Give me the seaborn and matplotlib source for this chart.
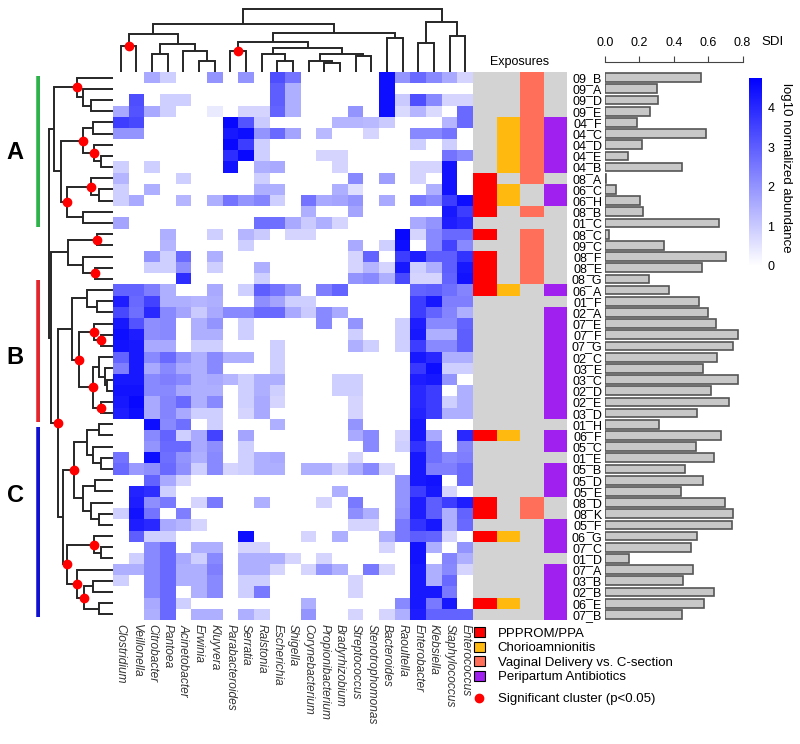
import numpy as np
import pandas as pd
import seaborn as sns
import matplotlib.pyplot as plt
from matplotlib.colors import LinearSegmentedColormap, ListedColormap
from matplotlib.patches import Patch
from matplotlib.lines import Line2D

# ---- data ----
samples = ["09_B", "09_A", "09_D", "09_E", "04_F", "04_C", "04_D", "04_E", "04_B", "08_A",
           "06_C", "06_H", "08_B", "01_C", "08_C", "09_C", "08_F", "08_E", "08_G", "06_A",
           "01_F", "02_A", "07_E", "07_F", "07_G", "02_C", "03_E", "03_C", "02_D", "02_E",
           "03_D", "01_H", "06_F", "05_C", "01_E", "05_B", "05_D", "05_E", "08_D", "08_K",
           "05_F", "06_G", "07_C", "01_D", "07_A", "03_B", "02_B", "06_E", "07_B"]

genera = ["Clostridium", "Veillonella", "Citrobacter", "Pantoea", "Acinetobacter", "Erwinia",
          "Kluyvera", "Parabacteroides", "Serratia", "Ralstonia", "Escherichia", "Shigella",
          "Corynebacterium", "Propionibacterium", "Bradyrhizobium", "Streptococcus",
          "Stenotrophomonas", "Bacteroides", "Raoultella", "Enterobacter", "Klebsiella",
          "Staphylococcus", "Enterococcus"]

sdi = [0.556, 0.300, 0.306, 0.262, 0.186, 0.587, 0.213, 0.132, 0.450, 0.004,
       0.062, 0.205, 0.223, 0.661, 0.025, 0.343, 0.703, 0.562, 0.256, 0.374,
       0.545, 0.597, 0.643, 0.775, 0.744, 0.649, 0.568, 0.775, 0.614, 0.721,
       0.533, 0.314, 0.674, 0.529, 0.636, 0.467, 0.568, 0.440, 0.696, 0.744,
       0.736, 0.535, 0.500, 0.138, 0.512, 0.453, 0.632, 0.574, 0.450]

# log10 normalized abundance, one row per sample (columns follow genera)
abundance = [
    [0, 0, 1.6, .9, 0, 0, 2.0, 0, 2.0, 0, 3.3, 2.6, 0, 0, 0, 0, 0, 4.5, 2.0, 2.8, 2.2, 1.6, .8],
    [0, 0, 0, 0, 0, 0, 0, 0, 0, 0, 3.0, 1.5, 0, 0, 0, 0, 0, 4.5, 0, 0, 0, 0, 0],
    [0, 3.3, 0, .9, .9, 0, 0, 0, 0, 0, 3.0, 1.5, 0, 0, 0, 0, 0, 4.5, 1.0, 3.3, 2.2, .8, .8],
    [1.6, 3.2, 1.6, .9, 0, 0, .4, 0, .8, .8, 2.9, 1.5, 0, 0, 0, 2.0, 0, 4.5, .7, 1.4, .7, 0, 2.8],
    [3.6, 3.4, 0, 0, 0, 0, 0, 4.6, 3.2, 1.0, 0, 0, 0, 0, 1.4, 1.4, 1.3, 1.0, 0, 0, 0, 1.4, 2.8],
    [2.0, 2.0, 0, 0, 0, 0, 0, 4.3, 4.5, 2.0, 2.8, 1.7, 0, 1.3, 0, 0, .8, 0, 0, 2.2, 2.2, 2.6, 0],
    [0, 0, 0, 0, 0, 0, 0, 4.6, 3.6, .9, 0, 0, 0, 0, 0, 0, 0, 0, 0, .9, 0, .9, 0],
    [0, 0, 0, 0, 0, 0, 0, 3.9, 4.6, .9, 0, 0, 0, .8, .8, 0, 0, 0, 0, 0, 0, 2.6, 2.2],
    [.9, 0, .9, 0, 0, 0, 0, 4.4, 0, 1.5, 1.6, 0, 0, 0, .8, 0, 0, 0, 0, .8, .8, 4.4, 0],
    [1.4, 0, 0, 0, .9, 0, 0, 0, 0, .9, 0, 0, 0, 0, 0, 2.2, 0, 1.8, 0, .8, 0, 4.4, 0],
    [.9, 0, 1.5, 0, 0, 0, 0, 0, 0, 1.5, 1.5, 0, 0, 0, 1.5, .6, 0, 0, 0, 0, 1.5, 4.4, 0],
    [.9, 1.6, 0, 0, 1.4, 0, 1.5, 2.6, 2.0, 2.3, .9, 0, 2.6, 1.6, 1.7, 2.0, 0, 1.6, 0, 2.5, 2.2, 3.6, 4.5],
    [0, 0, 0, 0, 0, 0, 0, 0, 0, 0, 0, 0, 1.5, 0, 0, 1.7, 0, 0, 0, 0, 0, 4.3, 3.6],
    [1.7, 0, 0, 0, 0, 0, 0, 0, 0, 2.7, 2.7, 1.6, 1.0, 1.5, .8, 0, 0, 0, 0, 1.6, 2.0, 4.2, 4.0],
    [0, 0, 0, 1.5, 0, 0, .9, 0, 1.4, 1.0, 0, .8, .8, 0, 0, 0, 0, 0, 4.6, .8, 2.2, 2.8, 2.8],
    [0, 0, 0, 1.4, 0, 0, 0, 0, .9, 0, 0, 0, 0, 0, 0, 1.6, 0, .9, 4.5, 0, 2.2, 3.5, 2.2],
    [0, 0, 2.0, .9, 2.8, 0, 1.5, 0, 0, 0, 0, 0, 0, 0, 0, .8, 2.9, 0, 3.6, 4.2, 3.0, 3.0, 3.8],
    [0, 0, .9, .9, 2.1, 0, .9, 0, 0, 1.5, 0, 0, 0, 0, 0, .8, 1.4, .8, 4.3, .9, 1.5, 3.0, 4.3],
    [0, 0, 0, 0, 3.9, 0, 0, 0, 0, .9, 0, 0, 0, 0, 0, 2.0, 2.2, 1.5, 3.4, .8, .8, 2.9, 4.4],
    [2.9, 2.9, 2.4, 1.5, 0, 0, 1.6, 0, .9, 3.0, 2.6, 2.0, 0, 2.4, 2.9, 0, 0, 0, 0, 2.9, 3.0, 2.7, 2.3],
    [4.2, 2.8, 3.5, 1.5, 1.5, 1.4, 1.5, 0, 0, 2.1, 1.7, .9, .9, 0, 0, 0, 0, 0, 0, 3.6, 4.3, 2.4, 2.4],
    [3.4, 2.7, 4.0, 2.2, 1.7, 1.0, 1.6, 2.2, 2.2, 2.8, 2.8, 1.6, 1.0, 2.2, 1.6, 0, 0, 0, 0, 3.6, 2.9, 2.3, 1.5],
    [4.3, 3.2, 2.1, 2.2, 0, 1.5, 2.0, 0, .9, 0, 0, 0, 0, 2.2, 0, 2.0, 0, 0, .9, 4.2, 2.2, 2.2, 2.9],
    [4.5, 4.2, 2.1, 2.2, 0, 1.5, 1.5, 0, .9, 0, 0, 0, 0, 0, 0, .9, 0, 0, .9, 4.3, 1.5, 1.5, 3.0],
    [4.4, 4.3, 1.6, 1.6, 0, .9, .9, 0, 0, 0, .9, 0, 0, 0, 0, 1.5, .9, 0, .9, 3.6, 2.2, 2.2, 3.0],
    [2.9, 4.3, 2.2, 2.8, 2.0, 1.5, 2.2, 1.5, 1.5, 0, .9, 0, 0, 0, 0, 0, 0, 0, 0, 4.3, 4.0, 1.5, 1.5],
    [2.4, 4.3, 1.6, 2.2, 1.6, 1.5, 2.2, 0, 0, 0, .9, 0, 0, 0, 0, 0, 0, 0, 0, 3.7, 4.5, .9, .9],
    [4.3, 4.3, 2.2, 2.4, 2.2, 1.5, 1.6, 1.4, .9, 1.5, 1.5, 0, 0, 0, .9, .9, 0, 0, 0, 4.2, 4.3, 2.0, 0],
    [4.4, 4.4, 2.2, 2.2, 1.6, 1.5, 1.5, 0, .9, 1.5, .9, 0, 0, 0, .9, .9, 0, 0, 0, 4.0, 3.6, 0, 1.5],
    [4.3, 4.6, 1.6, 2.3, 2.8, 1.5, 2.2, 0, .9, 1.6, .8, 0, 0, 0, 0, .8, 0, 0, 0, 4.0, 3.6, .9, 1.5],
    [4.2, 4.5, 1.6, 2.3, 1.6, .9, .9, 0, .8, 1.6, 0, 0, 0, 0, 0, .8, 0, 0, 0, 4.1, 3.6, 1.5, 1.5],
    [0, 0, 4.5, 2.2, 2.7, 0, .9, 0, 0, 0, 1.5, 0, 0, 0, 0, 2.0, 0, 0, 0, 4.3, 0, 0, 0],
    [0, 0, 2.2, 2.9, .9, 1.6, 3.5, 0, 1.7, 0, 0, 0, 0, 0, 0, 1.6, 2.2, 0, .8, 4.3, 1.6, 0, 4.0],
    [0, 0, 2.0, 2.8, 2.8, 1.6, 2.1, 0, .9, 0, 0, 0, 0, 0, 0, 0, 2.2, 0, .9, 3.8, 2.7, 0, 2.3],
    [2.6, 0, 4.5, 2.7, 2.0, 1.5, 2.2, 0, .9, 1.5, 1.6, 0, 0, 0, 0, .8, 0, 0, 0, 4.3, 2.7, 2.2, 2.4],
    [2.8, 1.9, 2.1, 2.8, 2.1, .9, 2.2, .8, .9, 1.5, 1.5, 0, 1.5, 1.5, .8, 1.5, 2.2, .8, 0, 4.3, 2.4, 2.4, 2.8],
    [0, 0, 2.9, 1.6, .8, 0, 0, 0, 0, 0, 0, 0, 0, 0, 0, 0, 0, 0, 2.0, 4.3, 4.4, 0, 2.8],
    [0, 4.1, 3.9, .9, 0, 0, 0, 0, 0, 0, 0, 0, 0, 0, 1.5, 0, 0, 0, 2.0, 3.6, 4.3, .8, 0],
    [0, 4.2, 2.1, 2.5, 0, .8, 2.5, 0, 0, 1.5, 0, 0, 0, .8, 0, 2.5, 0, 0, 2.0, 4.2, 3.0, 3.6, 4.2],
    [.9, 4.4, 2.6, 0, 2.4, 0, 0, 0, 0, 0, 0, 0, 0, 0, 0, 2.1, 1.5, 0, 2.1, 4.2, 3.0, 1.5, 2.9],
    [0, 4.2, 4.0, 1.6, 1.4, .8, 0, 0, 0, 0, 0, 0, 0, 0, 0, .8, .8, 0, 2.5, 3.8, 4.3, 1.5, 2.8],
    [0, 3.0, .9, .9, 0, 0, 0, 0, 4.5, 0, 0, 0, .8, 0, 1.5, 0, 0, 1.5, 2.5, 3.0, 2.9, .8, 0],
    [0, 0, 2.2, 2.8, 0, 1.5, 1.5, 0, .8, .8, 0, 0, 0, 0, 0, 0, 0, .8, 0, 4.4, 1.5, 0, 2.0],
    [0, .9, 2.2, 2.8, 1.6, .9, 2.2, 0, 1.5, 1.5, 1.5, .8, 0, .8, 0, 0, 0, 0, 0, 4.4, 0, 2.3, 1.5],
    [1.5, 1.5, 2.2, 2.8, 1.5, 1.5, 2.4, 0, 1.5, 1.5, .8, 0, .8, 2.0, 1.5, 0, 2.5, .8, 0, 4.3, 1.5, 2.2, .8],
    [.9, 0, 2.2, 2.8, 1.5, 1.5, 2.2, 0, .9, .9, 0, 0, 0, 0, 0, .8, 0, 0, 0, 4.3, 1.5, 2.8, 0],
    [0, 0, 2.2, 2.8, 0, 1.5, 2.2, 0, .9, 2.5, 0, 0, 0, 0, 0, .8, 0, 0, 0, 4.3, 4.3, 2.5, 0],
    [0, 0, 1.6, 2.8, .9, 0, 0, 0, 0, 0, 0, 0, 1.5, 0, 0, 0, 0, 0, 2.2, 4.3, 2.5, 4.3, 0],
    [0, 0, 1.5, 2.8, 0, 1.5, 1.5, 0, 1.5, .9, 0, 0, 2.0, 0, 0, .8, 0, .8, 1.5, 4.2, 2.9, 2.9, 2.9],
]

# exposures by patient (first two characters of the sample id)
exposures = ["PPPROM/PPA", "Chorioamnionitis", "Vaginal Delivery vs. C-section", "Peripartum Antibiotics"]
exposure_colors = ["#FF0000", "#FFB90F", "#FF6F59", "#A020F0"]
pprom_patients = ["06", "08"]
chorio_patients = ["04", "06"]
vaginal_patients = ["04", "08", "09"]
antibiotic_patients = ["02", "03", "04", "05", "06", "07"]

# dendrograms: (height, left, right, significant); ints are leaf positions
S, N = True, False
g06 = (38, (26, 0, 1, S), (28, (18, 2, 3, N), (21, 4, (11, 5, 6, N), N), N), N)
g716 = (30, (21, 7, 8, S), (24, (18, 9, (11, 10, 11, N), N),
                            (18, (11, 12, (9, 13, 14, N), N), (16, 15, 16, N), N), N), N)
g1922 = (50, (29, 19, 20, N), (36, 21, 22, N), N)
col_tree = (63, (48, g06, (39, g716, (34, 17, 18, N), N), N), g1922, N)

rA1 = (36, 0, (30, 1, (22, 2, 3, N), N), S)
rA2 = (30, (20, 4, 5, N), (19, 6, (12, 7, 8, N), S), S)
rA3 = (46, (22, 9, (14, 10, 11, N), S), (30, 12, 13, N), S)
rA = (59, rA1, (52, rA2, rA3, N), N)
rD = (45, (16, 14, 15, S), (30, 16, (18, 17, 18, S), N), N)
rB = (41, (26, 19, (16, 20, 21, N), N),
      (34, (18.6, 22, (12, 23, 24, S), S),
       (20, (14, 25, (8, 26, (6, 27, 28, N), N), N), (12, 29, 30, S), S), S), N)
rC1 = (39, (26, (14, 31, 32, N), (20, 33, (12, 34, 35, N), N), N),
       (30, (18, 36, 37, N), (22, 38, (14, 39, 40, N), N), N), S)
rC2 = (46, (18.6, 41, (12, 42, 43, N), S),
       (36, 44, (29.5, (20, 45, 46, N), (14, 47, 48, N), S), S), S)
row_tree = (64, rA, (62, rD, (55, rB, (50, rC1, rC2, N), S), N), N)

# cluster bars: label, first row, last row, label row, colour
clusters = [("A", 0.4, 13.9, 7.2, "#2DB34A"), ("B", 18.6, 31.3, 25.5, "#E3262D"),
            ("C", 31.7, 48.7, 37.9, "#1010D0")]

# ---- figure ----
plt.rcParams["font.family"] = ["Liberation Sans", "DejaVu Sans"]
fig = plt.figure(figsize=(8, 7.44), dpi=100)
W, H = 800.0, 744.0


def px_axes(x0, y0, x1, y1):
    return fig.add_axes([x0 / W, 1 - y1 / H, (x1 - x0) / W, (y1 - y0) / H])


top, bottom = 72, 620
ax_heat = px_axes(113, top, 473, bottom)
ax_exp = px_axes(473, top, 567, bottom)
ax_bar = px_axes(605, top, 742.5, bottom)
ax_cb = px_axes(749, 78, 762, 266)
ax_coltree = px_axes(113, 0, 473, top)
ax_rowtree = px_axes(40, top, 113, bottom)
ax_clu = px_axes(0, top, 40, bottom)

# heatmap
df = pd.DataFrame(abundance, index=samples, columns=genera)
cmap = LinearSegmentedColormap.from_list("wb", ["#FFFFFF", "#0000FF"])
sns.heatmap(df, ax=ax_heat, cmap=cmap, vmin=0, vmax=4.75, cbar_ax=ax_cb,
            xticklabels=True, yticklabels=False)
ax_heat.set_xlabel("")
ax_heat.set_ylabel("")
ax_heat.tick_params(axis="x", length=0, pad=3)
for t in ax_heat.get_xticklabels():
    t.set_rotation(270)
    t.set_fontstyle("italic")
    t.set_fontsize(8.6)
    t.set_color("#333333")
    t.set_va("top")
    t.set_ha("center")

ax_cb.tick_params(length=0, labelsize=9, pad=4)
ax_cb.set_yticks([0, 1, 2, 3, 4])
for s in ax_cb.spines.values():
    s.set_visible(False)
fig.text(786 / W, 1 - 168 / H, "log10 normalized abundance", rotation=270,
         ha="center", va="center", fontsize=9.5)

# exposures
patients = [s[:2] for s in samples]
groups = [pprom_patients, chorio_patients, vaginal_patients, antibiotic_patients]
exp_mat = pd.DataFrame({e: [(k + 1) if p in g else 0 for p in patients]
                        for k, (e, g) in enumerate(zip(exposures, groups))}, index=samples)
exp_cmap = ListedColormap(["#D3D3D3"] + exposure_colors)
sns.heatmap(exp_mat, ax=ax_exp, cmap=exp_cmap, vmin=-0.5, vmax=4.5, cbar=False,
            xticklabels=False, yticklabels=False)
ax_exp.set_title("Exposures", fontsize=9, pad=5)
ax_exp.set_ylabel("")

# SDI bars
bar_df = pd.DataFrame({"sample": samples, "sdi": sdi})
sns.barplot(data=bar_df, x="sdi", y="sample", ax=ax_bar, color="#C8C8C8",
            edgecolor="#555555", linewidth=1.2, width=0.78, saturation=1)
ax_bar.set_xlim(0, 0.8)
ax_bar.set_ylim(48.5, -0.5)
ax_bar.set_xlabel("")
ax_bar.set_ylabel("")
ax_bar.xaxis.tick_top()
ax_bar.set_xticks([0, 0.2, 0.4, 0.6, 0.8])
ax_bar.set_xticklabels(["0.0", "0.2", "0.4", "0.6", "0.8"])
ax_bar.tick_params(axis="x", labelsize=9, color="#444444", length=4, pad=5)
ax_bar.tick_params(axis="y", length=0, labelsize=9, pad=2)
for s in ["right", "bottom", "left"]:
    ax_bar.spines[s].set_visible(False)
ax_bar.spines["top"].set_position(("outward", 7.2))
ax_bar.spines["top"].set_color("#444444")
ax_bar.text(1.215, 1.055, "SDI", transform=ax_bar.transAxes, fontsize=9.5, va="center", ha="center")


# dendrograms
def draw_tree(ax, node, side):
    if isinstance(node, int):
        return node + 0.5, 0.0
    h, a, b, sig = node
    pa, ha = draw_tree(ax, a, side)
    pb, hb = draw_tree(ax, b, side)
    xs, ys = [pa, pa, pb, pb], [ha, h, h, hb]
    if side != "top":
        xs, ys = ys, xs
    ax.plot(xs, ys, color="#262626", lw=1.4, solid_joinstyle="miter", solid_capstyle="butt")
    mid = (pa + pb) / 2
    if sig:
        ax.plot(*((mid, h) if side == "top" else (h, mid)), "o", color="#FF0000", ms=6, zorder=5)
    return mid, h


draw_tree(ax_coltree, col_tree, "top")
ax_coltree.set_xlim(0, len(genera))
ax_coltree.set_ylim(0, 72)
ax_coltree.axis("off")

draw_tree(ax_rowtree, row_tree, "left")
ax_rowtree.set_ylim(len(samples), 0)
ax_rowtree.set_xlim(73, 0)
ax_rowtree.axis("off")

# cluster bars
for name, r0, r1, rl, c in clusters:
    ax_clu.plot([0.97, 0.97], [r0, r1], color=c, lw=4, solid_capstyle="butt")
    ax_clu.text(0.38, rl, name, fontsize=17, fontweight="bold", ha="center", va="center")
ax_clu.set_xlim(0, 1)
ax_clu.set_ylim(len(samples), 0)
ax_clu.axis("off")

# legend
handles = [Patch(facecolor=c, edgecolor="black", lw=0.8) for c in exposure_colors]
leg = fig.legend(handles, exposures, loc="upper left", bbox_to_anchor=(474 / W, 1 - 627 / H),
                 frameon=False, fontsize=9.5, handlelength=0.8, handleheight=0.8,
                 labelspacing=0.15, handletextpad=1.0, borderpad=0, borderaxespad=0)
dot = [Line2D([], [], lw=0, marker="o", color="#FF0000", ms=6)]
fig.legend(dot, ["Significant cluster (p<0.05)"], loc="upper left",
           bbox_to_anchor=(474 / W, 1 - 693 / H), frameon=False, fontsize=9.5,
           handlelength=0.8, handletextpad=1.0, borderpad=0, borderaxespad=0)

fig.savefig("out.png", dpi=100)
